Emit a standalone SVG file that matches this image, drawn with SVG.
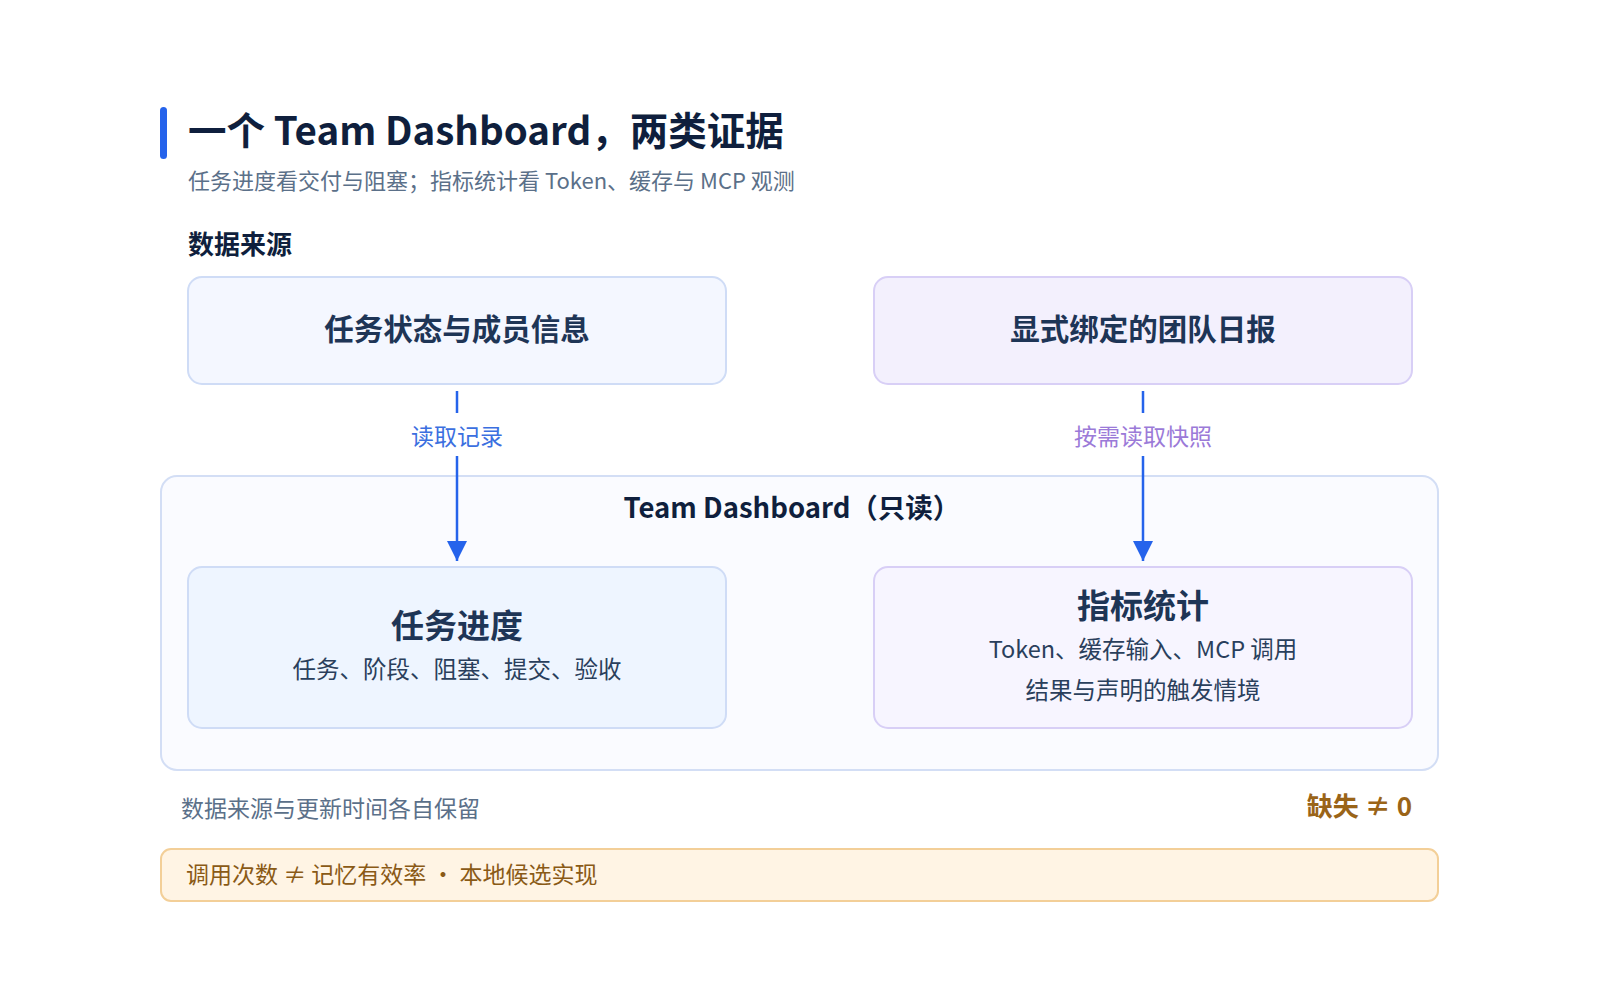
<svg xmlns="http://www.w3.org/2000/svg" width="1600" height="1000" viewBox="0 0 1600 1000">
<defs>
<style>
text{font-family:"Noto Sans CJK SC","Noto Sans",sans-serif;}
.h{fill:#0f1f3d;font-weight:700}
.n{fill:#1e3556;font-weight:700;text-anchor:middle}
.s{fill:#2a3f5c;text-anchor:middle;font-size:23.5px}
.c{stroke:#2563eb;stroke-width:2.5;fill:none}
</style>
<marker id="a" viewBox="0 0 20 20" refX="20" refY="10" markerWidth="20" markerHeight="20" markerUnits="userSpaceOnUse" orient="auto"><path d="M0,0L20,10L0,20z" fill="#2563eb"/></marker>
</defs>
<rect width="1600" height="1000" fill="#fff"/>
<g id="header">
<rect x="160" y="107" width="7" height="52" rx="3.5" fill="#2563eb"/>
<text x="188" y="145" class="h" font-size="38.5">一个 Team Dashboard，两类证据</text>
<text x="188" y="189" font-size="22" fill="#5b7089">任务进度看交付与阻塞；指标统计看 Token、缓存与 MCP 观测</text>
<text x="188" y="254" class="h" font-size="26">数据来源</text>
</g>
<g id="src1"><rect x="188" y="277" width="538" height="107" rx="14" fill="#f4f7ff" stroke="#cfdcf6" stroke-width="2"/><text x="457" y="340" class="n" font-size="29.5">任务状态与成员信息</text></g>
<g id="src2"><rect x="874" y="277" width="538" height="107" rx="14" fill="#f3f0fd" stroke="#d8cff6" stroke-width="2"/><text x="1143" y="340" class="n" font-size="29.5">显式绑定的团队日报</text></g>
<g id="dashboard"><rect x="161" y="476" width="1277" height="294" rx="16" fill="#fafbff" stroke="#d3def5" stroke-width="2"/><text x="792" y="518" class="h" font-size="27.5" text-anchor="middle">Team Dashboard（只读）</text></g>
<g id="progress"><rect x="188" y="567" width="538" height="161" rx="14" fill="#eef5ff" stroke="#cfdcf6" stroke-width="2"/><text x="457" y="638" class="n" font-size="33">任务进度</text><text x="457" y="678" class="s">任务、阶段、阻塞、提交、验收</text></g>
<g id="metrics"><rect x="874" y="567" width="538" height="161" rx="14" fill="#f7f5ff" stroke="#d8cff6" stroke-width="2"/><text x="1143" y="618" class="n" font-size="33">指标统计</text><text x="1143" y="658" class="s">Token、缓存输入、MCP 调用</text><text x="1143" y="699" class="s">结果与声明的触发情境</text></g>
<g id="connectors">
<path class="c" d="M457 391V413M457 456V561" marker-end="url(#a)"/>
<text x="457" y="445" font-size="23" fill="#3b6fe0" text-anchor="middle">读取记录</text>
<path class="c" d="M1143 391V413M1143 456V561" marker-end="url(#a)"/>
<text x="1143" y="445" font-size="23" fill="#9b7ad8" text-anchor="middle">按需读取快照</text>
</g>
<g id="footer">
<text x="181" y="817" font-size="23" fill="#5b7089">数据来源与更新时间各自保留</text>
<text x="1412" y="816" font-size="26" font-weight="700" fill="#9a6418" text-anchor="end">缺失 ≠ 0</text>
<rect x="161" y="849" width="1277" height="52" rx="10" fill="#fff4e4" stroke="#f3cf98" stroke-width="2"/>
<text x="186" y="883" font-size="23" fill="#8a5a16">调用次数 ≠ 记忆有效率 · 本地候选实现</text>
</g>
</svg>
